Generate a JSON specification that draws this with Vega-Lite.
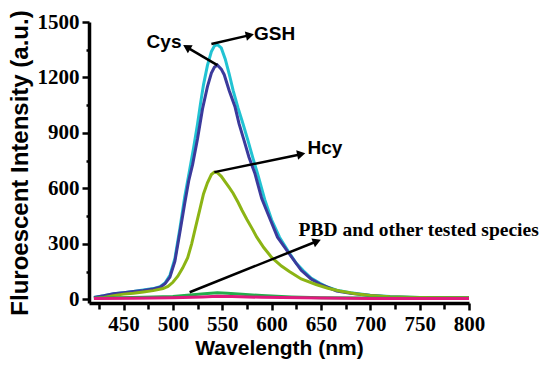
{
  "$schema": "https://vega.github.io/schema/vega-lite/v6.json",
  "autosize": "none",
  "width": 380,
  "height": 281,
  "padding": {"left": 89, "top": 22, "right": 81, "bottom": 67},
  "background": "white",
  "config": {"view": {"stroke": null}, "axis": {"labelFont": "Times New Roman, Liberation Serif, serif", "labelFontWeight": "bold", "labelFontSize": 21, "labelColor": "black"}},
  "resolve": {"axis": {"x": "independent", "y": "independent"}},
  "datasets": {
    "spectra": [
      {"s":"a_GSH","w":420,"v":10},{"s":"a_GSH","w":430,"v":20},{"s":"a_GSH","w":440,"v":30},{"s":"a_GSH","w":450,"v":36},{"s":"a_GSH","w":460,"v":42},{"s":"a_GSH","w":470,"v":50},{"s":"a_GSH","w":480,"v":58},{"s":"a_GSH","w":487,"v":68},{"s":"a_GSH","w":492,"v":88},{"s":"a_GSH","w":497,"v":130},{"s":"a_GSH","w":502,"v":220},{"s":"a_GSH","w":507,"v":380},{"s":"a_GSH","w":512,"v":555},{"s":"a_GSH","w":517,"v":700},{"s":"a_GSH","w":521,"v":820},{"s":"a_GSH","w":525,"v":950},{"s":"a_GSH","w":528,"v":1060},{"s":"a_GSH","w":531,"v":1160},{"s":"a_GSH","w":535,"v":1265},{"s":"a_GSH","w":539,"v":1340},{"s":"a_GSH","w":542,"v":1370},{"s":"a_GSH","w":545,"v":1378},{"s":"a_GSH","w":549,"v":1360},{"s":"a_GSH","w":553,"v":1300},{"s":"a_GSH","w":557,"v":1220},{"s":"a_GSH","w":561,"v":1130},{"s":"a_GSH","w":566,"v":1035},{"s":"a_GSH","w":571,"v":950},{"s":"a_GSH","w":576,"v":860},{"s":"a_GSH","w":581,"v":765},{"s":"a_GSH","w":586,"v":675},{"s":"a_GSH","w":593,"v":540},{"s":"a_GSH","w":600,"v":430},{"s":"a_GSH","w":608,"v":336},{"s":"a_GSH","w":618,"v":250},{"s":"a_GSH","w":625,"v":195},{"s":"a_GSH","w":632,"v":155},{"s":"a_GSH","w":640,"v":115},{"s":"a_GSH","w":649,"v":87},{"s":"a_GSH","w":657,"v":65},{"s":"a_GSH","w":666,"v":49},{"s":"a_GSH","w":680,"v":35},{"s":"a_GSH","w":700,"v":22},{"s":"a_GSH","w":720,"v":15},{"s":"a_GSH","w":750,"v":10},{"s":"a_GSH","w":780,"v":8},{"s":"a_GSH","w":800,"v":8},
      {"s":"b_Cys","w":420,"v":10},{"s":"b_Cys","w":430,"v":19},{"s":"b_Cys","w":440,"v":30},{"s":"b_Cys","w":450,"v":36},{"s":"b_Cys","w":460,"v":42},{"s":"b_Cys","w":470,"v":48},{"s":"b_Cys","w":480,"v":56},{"s":"b_Cys","w":487,"v":65},{"s":"b_Cys","w":492,"v":84},{"s":"b_Cys","w":497,"v":120},{"s":"b_Cys","w":502,"v":205},{"s":"b_Cys","w":507,"v":360},{"s":"b_Cys","w":512,"v":520},{"s":"b_Cys","w":516,"v":640},{"s":"b_Cys","w":520,"v":730},{"s":"b_Cys","w":525,"v":870},{"s":"b_Cys","w":530,"v":1030},{"s":"b_Cys","w":535,"v":1150},{"s":"b_Cys","w":539,"v":1224},{"s":"b_Cys","w":542,"v":1255},{"s":"b_Cys","w":545,"v":1267},{"s":"b_Cys","w":549,"v":1245},{"s":"b_Cys","w":552,"v":1215},{"s":"b_Cys","w":557,"v":1130},{"s":"b_Cys","w":563,"v":1040},{"s":"b_Cys","w":567,"v":950},{"s":"b_Cys","w":572,"v":861},{"s":"b_Cys","w":577,"v":770},{"s":"b_Cys","w":583,"v":682},{"s":"b_Cys","w":590,"v":545},{"s":"b_Cys","w":598,"v":440},{"s":"b_Cys","w":606,"v":336},{"s":"b_Cys","w":618,"v":245},{"s":"b_Cys","w":630,"v":157},{"s":"b_Cys","w":640,"v":110},{"s":"b_Cys","w":649,"v":82},{"s":"b_Cys","w":666,"v":45},{"s":"b_Cys","w":680,"v":32},{"s":"b_Cys","w":700,"v":20},{"s":"b_Cys","w":720,"v":13},{"s":"b_Cys","w":750,"v":9},{"s":"b_Cys","w":800,"v":7},
      {"s":"c_Hcy","w":420,"v":5},{"s":"c_Hcy","w":430,"v":10},{"s":"c_Hcy","w":440,"v":20},{"s":"c_Hcy","w":450,"v":28},{"s":"c_Hcy","w":460,"v":33},{"s":"c_Hcy","w":470,"v":40},{"s":"c_Hcy","w":480,"v":47},{"s":"c_Hcy","w":490,"v":58},{"s":"c_Hcy","w":495,"v":70},{"s":"c_Hcy","w":500,"v":92},{"s":"c_Hcy","w":505,"v":125},{"s":"c_Hcy","w":510,"v":170},{"s":"c_Hcy","w":515,"v":225},{"s":"c_Hcy","w":519,"v":300},{"s":"c_Hcy","w":523,"v":390},{"s":"c_Hcy","w":527,"v":480},{"s":"c_Hcy","w":531,"v":570},{"s":"c_Hcy","w":535,"v":630},{"s":"c_Hcy","w":539,"v":675},{"s":"c_Hcy","w":542,"v":688},{"s":"c_Hcy","w":545,"v":685},{"s":"c_Hcy","w":549,"v":665},{"s":"c_Hcy","w":553,"v":635},{"s":"c_Hcy","w":557,"v":605},{"s":"c_Hcy","w":561,"v":574},{"s":"c_Hcy","w":566,"v":525},{"s":"c_Hcy","w":570,"v":482},{"s":"c_Hcy","w":575,"v":432},{"s":"c_Hcy","w":580,"v":385},{"s":"c_Hcy","w":585,"v":336},{"s":"c_Hcy","w":592,"v":280},{"s":"c_Hcy","w":600,"v":227},{"s":"c_Hcy","w":610,"v":180},{"s":"c_Hcy","w":618,"v":150},{"s":"c_Hcy","w":630,"v":110},{"s":"c_Hcy","w":645,"v":80},{"s":"c_Hcy","w":657,"v":60},{"s":"c_Hcy","w":669,"v":45},{"s":"c_Hcy","w":685,"v":30},{"s":"c_Hcy","w":700,"v":20},{"s":"c_Hcy","w":720,"v":14},{"s":"c_Hcy","w":750,"v":10},{"s":"c_Hcy","w":800,"v":9},
      {"s":"d_other1","w":420,"v":6},{"s":"d_other1","w":440,"v":8},{"s":"d_other1","w":460,"v":10},{"s":"d_other1","w":480,"v":12},{"s":"d_other1","w":500,"v":15},{"s":"d_other1","w":520,"v":24},{"s":"d_other1","w":535,"v":32},{"s":"d_other1","w":545,"v":35},{"s":"d_other1","w":555,"v":33},{"s":"d_other1","w":570,"v":27},{"s":"d_other1","w":590,"v":20},{"s":"d_other1","w":620,"v":13},{"s":"d_other1","w":650,"v":9},{"s":"d_other1","w":700,"v":7},{"s":"d_other1","w":750,"v":6},{"s":"d_other1","w":800,"v":6},
      {"s":"e_other2","w":420,"v":5},{"s":"e_other2","w":460,"v":6},{"s":"e_other2","w":500,"v":8},{"s":"e_other2","w":530,"v":13},{"s":"e_other2","w":545,"v":16},{"s":"e_other2","w":560,"v":15},{"s":"e_other2","w":590,"v":11},{"s":"e_other2","w":650,"v":7},{"s":"e_other2","w":700,"v":5},{"s":"e_other2","w":800,"v":4}
    ],
    "notes": [
      {"label":"Cys","x":545,"y":1267,"x2":514,"y2":1364,"tx":491,"ty":1391,"font":"sans"},
      {"label":"GSH","x":539,"y":1381,"x2":578,"y2":1429,"tx":603,"ty":1435,"font":"sans"},
      {"label":"Hcy","x":542,"y":688,"x2":630,"y2":785,"tx":654,"ty":818,"font":"sans"},
      {"label":"PBD and other tested species","x":517,"y":38,"x2":646,"y2":314,"tx":749,"ty":374,"font":"serif"}
    ]
  },
  "layer": [
    {
      "data": {"name": "spectra"},
      "mark": {"type": "line", "strokeWidth": 3, "clip": true},
      "encoding": {
        "x": {
          "field": "w", "type": "quantitative",
          "scale": {"domain": [415, 800], "nice": false, "zero": false},
          "axis": {
            "orient": "bottom",
            "values": [450, 500, 550, 600, 650, 700, 750, 800],
            "format": "d",
            "labelFlush": false,
            "labelOverlap": false,
            "title": "Wavelength (nm)",
            "grid": false,
            "domainColor": "black", "domainWidth": 3.5,
            "tickColor": "black", "tickWidth": 2.5, "tickSize": 7,
            "labelFont": "Times New Roman, Liberation Serif, serif", "labelFontWeight": "bold", "labelFontSize": 21, "labelColor": "black", "labelPadding": 3,
            "titleFont": "Liberation Sans", "titleFontWeight": "bold", "titleFontSize": 21, "titleColor": "black", "titlePadding": 3
          }
        },
        "y": {
          "field": "v", "type": "quantitative",
          "scale": {"domain": [-20, 1500], "nice": false, "zero": false},
          "axis": {
            "orient": "left",
            "values": [0, 300, 600, 900, 1200, 1500],
            "format": "d",
            "labelFlush": false,
            "labelOverlap": false,
            "title": "Fluroescent Intensity (a.u.)",
            "grid": false,
            "domainColor": "black", "domainWidth": 3.5,
            "tickColor": "black", "tickWidth": 2.5, "tickSize": 7,
            "labelFont": "Times New Roman, Liberation Serif, serif", "labelFontWeight": "bold", "labelFontSize": 21, "labelColor": "black", "labelPadding": 3,
            "titleFont": "Liberation Sans", "titleFontWeight": "bold", "titleFontSize": 24, "titleColor": "black", "titlePadding": 5
          }
        },
        "color": {
          "field": "s", "type": "nominal", "legend": null,
          "scale": {"domain": ["a_GSH", "b_Cys", "c_Hcy", "d_other1", "e_other2"], "range": ["#22c3d3", "#3b3a9c", "#8cb414", "#23ad4c", "#e0197d"]}
        }
      }
    },
    {
      "data": {"values": [{"w": 425, "v": 150}]},
      "mark": {"type": "point", "opacity": 0},
      "encoding": {
        "x": {"field": "w", "type": "quantitative", "axis": {"orient": "bottom", "values": [425, 475, 525, 575, 625, 675, 725, 775], "labels": false, "domain": false, "grid": false, "title": null, "tickColor": "black", "tickWidth": 2.5, "tickSize": 6}},
        "y": {"field": "v", "type": "quantitative", "axis": {"orient": "left", "values": [150, 450, 750, 1050, 1350], "labels": false, "domain": false, "grid": false, "title": null, "tickColor": "black", "tickWidth": 2.5, "tickSize": 3}}
      }
    },
    {
      "data": {"name": "notes"},
      "mark": {"type": "rule", "strokeWidth": 2.5, "color": "black"},
      "encoding": {
        "x": {"field": "x", "type": "quantitative", "axis": null},
        "y": {"field": "y", "type": "quantitative", "axis": null},
        "x2": {"field": "x2"},
        "y2": {"field": "y2"}
      }
    },
    {
      "data": {"name": "notes"},
      "transform": [{"calculate": "atan2(-(datum.y2 - datum.y) * 281 / 1520, (datum.x2 - datum.x) * 380 / 385) * 180 / PI", "as": "ang"}],
      "mark": {"type": "point", "shape": "triangle-right", "filled": true, "color": "black", "opacity": 1, "size": 90},
      "encoding": {
        "x": {"field": "x2", "type": "quantitative", "axis": null},
        "y": {"field": "y2", "type": "quantitative", "axis": null},
        "angle": {"field": "ang", "type": "quantitative", "scale": null}
      }
    },
    {
      "data": {"name": "notes"},
      "transform": [{"filter": "datum.font == 'sans'"}],
      "mark": {"type": "text", "font": "Liberation Sans", "fontWeight": "bold", "fontSize": 19, "color": "black", "align": "center", "baseline": "middle"},
      "encoding": {
        "x": {"field": "tx", "type": "quantitative", "axis": null},
        "y": {"field": "ty", "type": "quantitative", "axis": null},
        "text": {"field": "label"}
      }
    },
    {
      "data": {"name": "notes"},
      "transform": [{"filter": "datum.font == 'serif'"}],
      "mark": {"type": "text", "font": "Liberation Serif", "fontWeight": "bold", "fontSize": 19.5, "color": "black", "align": "center", "baseline": "middle"},
      "encoding": {
        "x": {"field": "tx", "type": "quantitative", "axis": null},
        "y": {"field": "ty", "type": "quantitative", "axis": null},
        "text": {"field": "label"}
      }
    }
  ]
}
